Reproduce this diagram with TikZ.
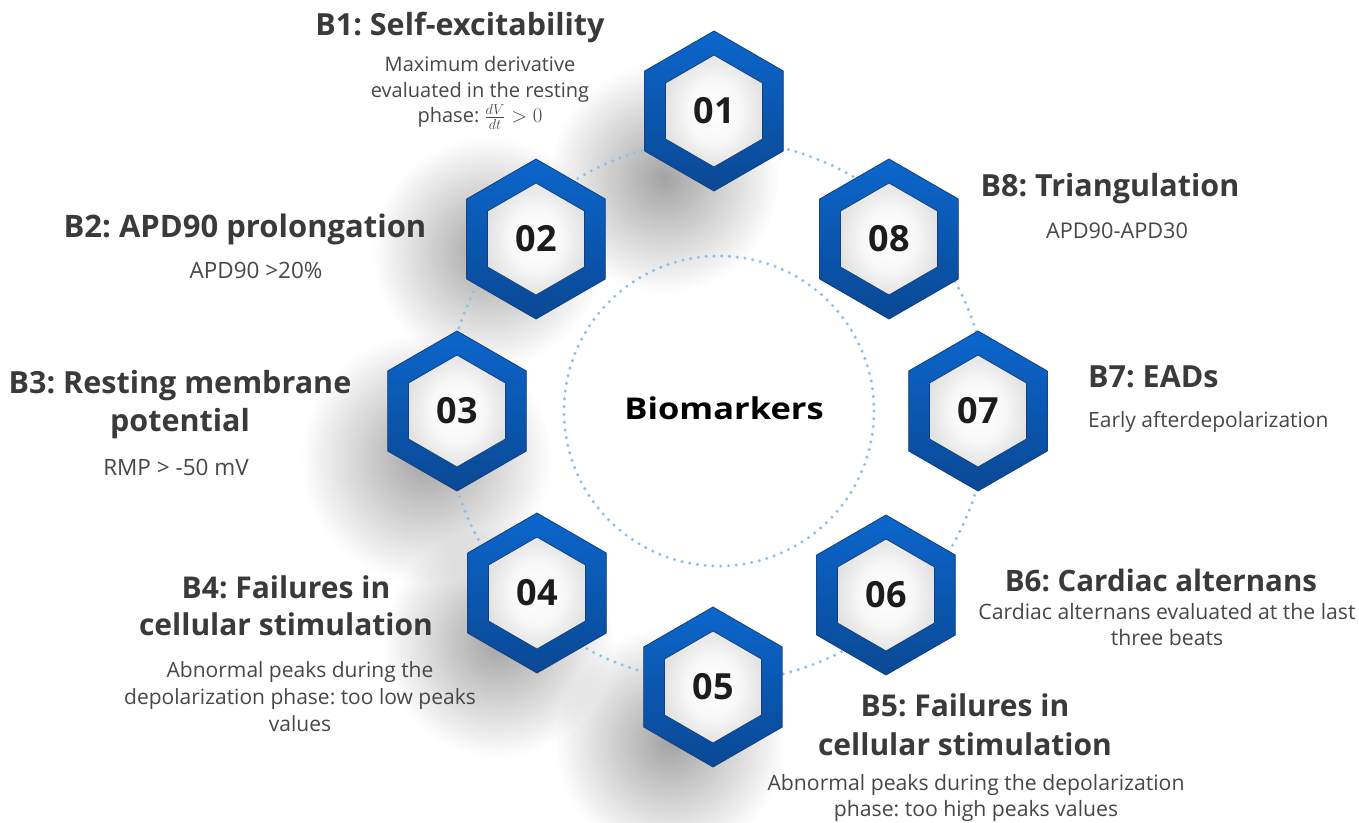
\documentclass[tikz,border=0pt]{standalone}
\usepackage{fontspec}
\setmainfont{Open Sans}
\newfontfamily\hubfont[FakeStretch=1.15]{Open Sans}
\usetikzlibrary{calc,fadings}

\definecolor{hexblue}{HTML}{0B66CC}
\definecolor{hexdark}{HTML}{0A4894}
\definecolor{hexedge}{HTML}{12407F}
\definecolor{ringblue}{HTML}{8CC2EA}
\definecolor{titlegray}{HTML}{3A3A3A}
\definecolor{descgray}{HTML}{474747}
\definecolor{numblack}{HTML}{1C1C1C}

% soft round shadow: opaque centre, transparent rim
\tikzfading[name=blobfade, inner color=transparent!0, outer color=transparent!100]

% grey-white face of the inner hexagons
\pgfdeclareradialshading{hexface}{\pgfpoint{0bp}{0bp}}{%
  color(0bp)=(white); color(14bp)=(black!3); color(34bp)=(black!17); color(50bp)=(black!26)}

% pointy-top hexagon around a centre
\newcommand\hexpath[2]{($(#1)+(90:#2)$) -- ($(#1)+(150:#2)$) -- ($(#1)+(210:#2)$)
  -- ($(#1)+(270:#2)$) -- ($(#1)+(330:#2)$) -- ($(#1)+(30:#2)$) -- cycle}

% caption fonts: size and line distance
\newcommand\headfont[2]{\bfseries\fontsize{#1}{#2}\selectfont\lineskiplimit=-60pt\frenchspacing}
\newcommand\bodyfont[2]{\fontsize{#1}{#2}\selectfont\lineskiplimit=-60pt\frenchspacing}

\tikzset{
  shadowblob/.style={fill=black, opacity=0.36, path fading=blobfade},
  ringline/.style={draw=ringblue, line width=3.4pt, line cap=round, dash pattern=on 0pt off 7.8pt},
  hexouter/.style={top color=hexblue, bottom color=hexdark, draw=hexedge, line width=0.8pt},
  hexinner/.style={shading=hexface, draw=hexedge, line width=0.8pt},
  numtext/.style={font=\bfseries\fontsize{36}{40}\selectfont, text=numblack, inner sep=0pt},
  headtext/.style={font=\headfont{30.5}{38}, text=titlegray, align=center, inner sep=0pt},
  bodytext/.style={font=\bodyfont{21}{26}, text=descgray, align=center, inner sep=0pt},
}

\begin{document}
\begin{tikzpicture}[x=1pt, y=-1pt]
\useasboundingbox (0,0) rectangle (1359,822);
\fill[white] (0,0) rectangle (1359,822);

% hexagon centres
\coordinate (c1) at (714,111);
\coordinate (c2) at (536,239);
\coordinate (c3) at (457,411);
\coordinate (c4) at (537,593);
\coordinate (c5) at (713,687);
\coordinate (c6) at (886,595);
\coordinate (c7) at (978,411);
\coordinate (c8) at (889,239);
\coordinate (hub) at (719,411);

% drop shadows on the left-hand hexagons
\fill[shadowblob] (664,178) circle (115);
\fill[shadowblob] (488,252) circle (115);
\fill[shadowblob] (426,458) circle (125);
\fill[shadowblob] (498,642) circle (115);
\fill[shadowblob] (670,742) circle (115);

% dotted rings
\draw[ringline] (717,411) circle (271);
\draw[ringline] (hub) circle (155);

% hexagons
\foreach \c in {c1,c2,c3,c4,c5,c6,c7,c8}{
  \shade[hexouter] \hexpath{\c}{80};
  \shade[hexinner] \hexpath{\c}{56};
}

% numbers
\node[numtext] (n1) at (c1) {01};
\node[numtext] (n2) at (c2) {02};
\node[numtext] (n3) at (c3) {03};
\node[numtext] (n4) at (c4) {04};
\node[numtext] (n5) at (c5) {05};
\node[numtext] (n6) at (c6) {06};
\node[numtext] (n7) at (c7) {07};
\node[numtext] (n8) at (c8) {08};

% centre label
\node[font=\hubfont\bfseries\fontsize{30}{36}\selectfont, text=black, inner sep=0pt]
  (hubtext) at (724,408) {Biomarkers};

% biomarker captions
\node[headtext] (t1) at (460,27) {B1: Self-excitability};
\node[bodytext, font=\bodyfont{20}{25.5}] (d1) at (480,93)
  {Maximum derivative\\evaluated in the resting\\phase: $\frac{dV}{dt} > 0$};

\node[headtext, font=\headfont{31}{38}] (t2) at (245,229) {B2: APD90 prolongation};
\node[bodytext, font=\bodyfont{22.5}{26}] (d2) at (256,270) {APD90 >20\%};

\node[headtext] (t3) at (180,405) {B3: Resting membrane\\potential};
\node[bodytext, font=\bodyfont{22.5}{26}] (d3) at (176,467) {RMP > -50 mV};

\node[headtext, font=\headfont{30}{37}] (t4) at (286,606)
  {B4: Failures in\\cellular stimulation};
\node[bodytext, font=\bodyfont{21}{27}] (d4) at (300,697)
  {Abnormal peaks during the\\depolarization phase: too low peaks\\values};

\node[headtext, font=\headfont{30}{39}] (t5) at (965,725)
  {B5: Failures in\\cellular stimulation};
\node[bodytext, font=\bodyfont{21.2}{26}] (d5) at (976,798)
  {Abnormal peaks during the depolarization\\phase: too high peaks values};

\node[headtext, font=\headfont{29.5}{36}] (t6) at (1161,580) {B6: Cardiac alternans};
\node[bodytext, font=\bodyfont{21.2}{26}] (d6) at (1167,625) {Cardiac alternans evaluated at the last\\three beats};

\node[headtext, anchor=west] (t7) at (1088,377) {B7: EADs};
\node[bodytext, anchor=west] (d7) at (1088,422) {Early afterdepolarization};

\node[headtext] (t8) at (1110,189) {B8: Triangulation};
\node[bodytext, font=\bodyfont{21.7}{26}] (d8) at (1117,231) {APD90-APD30};
\end{tikzpicture}
\end{document}
